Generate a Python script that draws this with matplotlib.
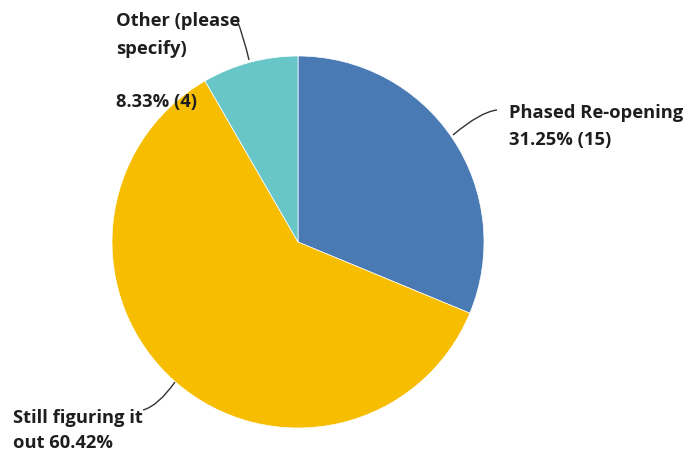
import matplotlib.pyplot as plt
from matplotlib.path import Path
from matplotlib.patches import PathPatch

# =============================================================================
# Data
# =============================================================================

categories = ["Phased Re-opening", "Still figuring it out", "Other (please specify)"]
counts = [15, 29, 4]
percents = [31.25, 60.42, 8.33]
colors = ["#4a7ab4", "#f7bd00", "#68c6c9"]

W, H = 689, 458

# =============================================================================
# Plot (axes in pixel units, y measured from top converted below)
# =============================================================================

fig = plt.figure(figsize=(W / 100, H / 100), dpi=100)
ax = fig.add_axes([0, 0, 1, 1])


def py(y):
    return H - y


ax.pie(
    counts,
    colors=colors,
    startangle=90,
    counterclock=False,
    center=(298, py(242)),
    radius=186,
    wedgeprops=dict(linewidth=0.5, edgecolor="white"),
    frame=True,
)
ax.set_xlim(0, W)
ax.set_ylim(0, H)
ax.set_aspect("equal")
ax.axis("off")

font = dict(family="Open Sans", fontweight="bold", fontsize=13.2, color="#1e1e1e")


def leader(p0, p1, p2):
    verts = [(p0[0], py(p0[1])), (p1[0], py(p1[1])), (p2[0], py(p2[1]))]
    path = Path(verts, [Path.MOVETO, Path.CURVE3, Path.CURVE3])
    ax.add_patch(PathPatch(path, fill=False, lw=1.0, color="#333333"))


# Other
ax.text(116, py(21), "Other (please", va="center", ha="left", **font)
ax.text(116, py(49), "specify)", va="center", ha="left", **font)
ax.text(116, py(102), f"{percents[2]:.2f}% ({counts[2]})", va="center", ha="left", **font)
leader((237, 20), (244, 38), (249, 60))

# Phased Re-opening
ax.text(509, py(113), categories[0], va="center", ha="left", **font)
ax.text(509, py(140), f"{percents[0]:.2f}% ({counts[0]})", va="center", ha="left", **font)
leader((497, 110), (480, 112), (453, 135))

# Still figuring it out
ax.text(13, py(418), "Still figuring it", va="center", ha="left", **font)
ax.text(13, py(443), f"out {percents[1]:.2f}%", va="center", ha="left", **font)
leader((143, 410), (158, 406), (175, 382))

fig.savefig("out.png", dpi=100)
